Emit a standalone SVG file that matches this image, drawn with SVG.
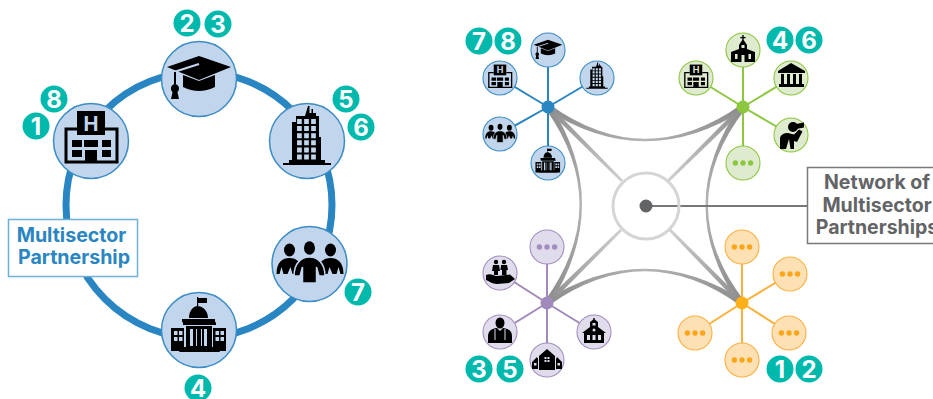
<svg xmlns="http://www.w3.org/2000/svg" width="933" height="399" viewBox="0 0 933 399">
<style>
text{font-family:"Inter","Liberation Sans",sans-serif;font-weight:700}
.bd circle{fill:#00b9ad}
.bd text{fill:#fff;font-size:24px;text-anchor:middle}
.k{fill:#000}.b{fill:currentColor}
.ls{fill:none;stroke:currentColor}
.kl{fill:none;stroke:#000}
.n{stroke-width:1.5}.s{stroke-width:1.1}
.blue{color:#c1d5ec}.blue circle.c{fill:#c1d5ec;stroke:#3c8dc5}
.green{color:#dfebcf}.green circle.c{fill:#dfebcf;stroke:#8dc63f}
.purple{color:#e1dcec}.purple circle.c{fill:#e1dcec;stroke:#a48dbf}
.orange{color:#fde0b4}.orange circle.c{fill:#fde0b4;stroke:#fbb040}
.sb{stroke:#2a86c2}.sg{stroke:#8dc63f}.sp{stroke:#a08abc}.so{stroke:#fbb03b}
.sp2{stroke-width:2}
.lb{font-size:19.600px;fill:#2a86c2;text-anchor:middle}
.lg{font-size:19.500px;fill:#636466;text-anchor:middle}
</style>
<defs>
<linearGradient id="gh" gradientUnits="userSpaceOnUse" x1="548" y1="0" x2="743" y2="0"><stop offset="0" stop-color="#8c8c8c"/><stop offset=".5" stop-color="#b4b4b4"/><stop offset="1" stop-color="#8c8c8c"/></linearGradient>
<linearGradient id="gv" gradientUnits="userSpaceOnUse" x1="0" y1="107" x2="0" y2="303"><stop offset="0" stop-color="#8c8c8c"/><stop offset=".5" stop-color="#b4b4b4"/><stop offset="1" stop-color="#8c8c8c"/></linearGradient>
<linearGradient id="g1" gradientUnits="userSpaceOnUse" x1="548" y1="107" x2="622" y2="181"><stop offset="0" stop-color="#8c8c8c"/><stop offset="1" stop-color="#cfcfcf"/></linearGradient>
<linearGradient id="g2" gradientUnits="userSpaceOnUse" x1="743" y1="107" x2="668" y2="181"><stop offset="0" stop-color="#8c8c8c"/><stop offset="1" stop-color="#cfcfcf"/></linearGradient>
<linearGradient id="g3" gradientUnits="userSpaceOnUse" x1="547" y1="303" x2="621" y2="230"><stop offset="0" stop-color="#8c8c8c"/><stop offset="1" stop-color="#cfcfcf"/></linearGradient>
<linearGradient id="g4" gradientUnits="userSpaceOnUse" x1="742" y1="303" x2="670" y2="230"><stop offset="0" stop-color="#8c8c8c"/><stop offset="1" stop-color="#cfcfcf"/></linearGradient>

<symbol id="hospital" viewBox="-38 -38 76 76">
<path class="kl" stroke-width="3" d="M-14,-12H-25V21H26V-12H14"/>
<rect class="k" x="-14" y="-30" width="28" height="24"/>
<text x="0" y="-10.500" font-size="20" text-anchor="middle" class="b">H</text>
<path class="k" d="M-19,-1h10v7h-10zM-7,-1h14v7h-14zM11,-1h9v7h-9zM-19,9h10v7h-10zM11,9h9v7h-9zM-6,9h12v12h-12z"/>
</symbol>
<symbol id="cap" viewBox="-38 -38 76 76">
<path class="k" d="M-32,-12L0,-23L32,-12L0,1Z"/>
<path class="k" d="M-16,-4L0,2L16,-4V8Q0,16-16,8Z"/>
<path class="ls" stroke-width="2" d="M-25,-7L0,-15"/>
<path class="k" d="M-25,-7h2V5h-2zM-24,5a4,4.500 0 1 1-.1,0ZM-26,11h4l2,9h-8Z"/>
</symbol>
<symbol id="tower" viewBox="-38 -38 76 76">
<path class="k" d="M1,-35h1.500v7H4.500v-4h1.500v4H9v3h3V-4h2V19h4v3h6v2H-24v-2h6v-3h3V-19h4v-6h9Z"/>
<path class="ls" stroke-width="4.700" stroke-dasharray="5 2.100" d="M-7.600,-22V19M-.5,-22V19M6.500,-22V19"/>
</symbol>
<symbol id="people" viewBox="-38 -38 76 76">
<ellipse class="k" cx="-20" cy="-14" rx="5.500" ry="6.500"/><ellipse class="k" cx="21" cy="-14" rx="5.500" ry="6.500"/>
<path class="k" d="M-33,10C-33,-2-27,-6-20,-6C-14,-6-11,-3-9,0L-14,10H-17L-19,3L-22,10H-26L-28,3L-30,10ZM34,10C34,-2 28,-6 21,-6C15,-6 12,-3 10,0L15,10H18L20,3L23,10H27L29,3L31,10Z"/>
<ellipse class="k" cx="0" cy="-16" rx="5.500" ry="6.800"/>
<path class="k" stroke="currentColor" stroke-width="1.500" d="M-15.500,12C-15.500,-1-8,-7 0,-7C8,-7 15.500,-1 15.500,12H9.500L7,3V19H-7V3L-9.500,12Z"/>
</symbol>
<symbol id="gov" viewBox="-38 -38 76 76">
<path class="k" d="M-2,-33h1.200v1H8v5H-.8v5h-1.200v-5ZM-10,-12C-10,-20-5,-24-1.500,-24C3,-24 9,-20 9,-12Z"/>
<path class="k" d="M-17,-11H16V-8.500L17,-7V-5H-16V-7L-17,-8.500Z"/>
<path class="k" d="M-13,-4H13V17H-13ZM-28,-2H-15V21H-28ZM14,-2H27V21H14ZM-17,17H18L21,22H-20Z"/>
<path class="b" d="M-9,-1h3V16H-9zM5,-1h3V16H5zM-3,-1h1V16h-1zM2,-1h1V16H2zM-25,1h3.500v4H-25zM-20,1h3.500v4H-20zM-25,7h3.500v4H-25zM-20,7h3.500v4H-20zM16.500,1h3.500v4H16.500zM21.500,1h3.500v4H21.500zM16.500,7h3.500v4H16.500zM21.500,7h3.500v4H21.500z"/>
</symbol>
<symbol id="dots" viewBox="-38 -38 76 76">
<circle cx="-17" cy="0" r="6" fill="currentColor"/><circle cx="0" cy="0" r="6" fill="currentColor"/><circle cx="17" cy="0" r="6" fill="currentColor"/>
</symbol>
</defs>

<g id="connectors">
<circle cx="199" cy="205" r="133" fill="none" stroke="#2a86c2" stroke-width="7"/>
<g class="sb sp2"><path d="M548,107V50M548,107V163M548,107L597,78M548,107L500,78M548,107L500,134"/></g>
<g class="sg sp2"><path d="M743,107V50M743,107V163M743,107L791,78M743,107L696,78M743,107L791,135"/></g>
<g class="sp sp2"><path d="M547,303V247M547,303V360M547,303L500,273M547,303L500,332M547,303L594,332"/></g>
<g class="so sp2"><path d="M742,303V247M742,303V360M742,303L790,274M742,303L789,333M742,303L695,333"/></g>
<path fill="url(#gh)" d="M549.700,104.500Q645,173 741.300,104.500L744.700,109.500Q645,173 546.300,109.500Z"/>
<path fill="url(#gh)" d="M548.700,305.500Q645,237 740.300,305.500L743.700,300.500Q645,237 545.300,300.500Z"/>
<path fill="url(#gv)" d="M550.500,105.300Q614,205 549.500,304.700L544.500,301.300Q614,205 545.500,108.700Z"/>
<path fill="url(#gv)" d="M740.500,105.300Q671,205 739.500,304.700L744.500,301.300Q671,205 745.500,108.700Z"/>
<path fill="url(#g1)" d="M549.800,105.200L623,180L621,182L546.200,108.800Z"/>
<path fill="url(#g2)" d="M744.800,108.800L669,182L667,180L741.200,105.200Z"/>
<path fill="url(#g3)" d="M548.800,304.800L622,231L620,229L545.200,301.200Z"/>
<path fill="url(#g4)" d="M743.800,301.200L671,229L669,231L740.200,304.800Z"/>
<path d="M646,206H808" stroke="#77787b" stroke-width="2"/>
</g>

<g id="network-center"><circle cx="646" cy="206" r="33" fill="none" stroke="#d5d5d5" stroke-width="3"/><circle cx="646" cy="206" r="6.500" fill="#636466"/></g>

<g id="label-multisector"><rect x="8.500" y="219.500" width="129" height="57" fill="#fff" stroke="#6fb0d8" stroke-width="1.500"/>
<text class="lb" x="71.500" y="242">Multisector</text><text class="lb" x="74" y="264">Partnership</text></g>

<g id="label-network"><rect x="807.500" y="167.500" width="140" height="76" fill="#fff" stroke="#77787b" stroke-width="1.500"/>
<text class="lg" x="877" y="189">Network of</text><text class="lg" x="877" y="212">Multisector</text><text class="lg" x="877" y="234">Partnerships</text></g>

<g id="big-hospital" class="blue"><circle class="c n" cx="91" cy="141" r="37.500"/><use href="#hospital" x="53" y="103" width="76" height="76"/></g>
<g id="big-cap" class="blue"><circle class="c n" cx="199" cy="79" r="37.500"/><use href="#cap" x="161" y="41" width="76" height="76"/></g>
<g id="big-tower" class="blue"><circle class="c n" cx="307" cy="141" r="37.500"/><use href="#tower" x="269" y="103" width="76" height="76"/></g>
<g id="big-people" class="blue"><circle class="c n" cx="309.500" cy="264" r="37.500"/><use href="#people" x="271.500" y="226" width="76" height="76"/></g>
<g id="big-gov" class="blue"><circle class="c n" cx="199" cy="330" r="37.500"/><use href="#gov" x="161" y="292" width="76" height="76"/></g>

<g id="blue-hub"><circle cx="548" cy="107" r="6.500" fill="#2a86c2"/></g>
<g id="blue-cap" class="blue"><circle class="c s" cx="548" cy="50" r="17"/><use href="#cap" x="531" y="33" width="34" height="34"/></g>
<g id="blue-tower" class="blue"><circle class="c s" cx="597" cy="78" r="17"/><use href="#tower" x="580" y="61" width="34" height="34"/></g>
<g id="blue-hospital" class="blue"><circle class="c s" cx="500" cy="78" r="17"/><use href="#hospital" x="483" y="61" width="34" height="34"/></g>
<g id="blue-people" class="blue"><circle class="c s" cx="500" cy="134" r="17"/><use href="#people" x="483" y="117" width="34" height="34"/></g>
<g id="blue-gov" class="blue"><circle class="c s" cx="548" cy="163" r="17"/><use href="#gov" x="531" y="146" width="34" height="34"/></g>

<g id="green-hub"><circle cx="743" cy="107" r="6.500" fill="#8dc63f"/></g>
<g id="green-church" class="green"><circle class="c s" cx="743" cy="50" r="17"/><path class="k" transform="translate(743,50)" d="M-.7,-15h1.400v2h2v1.200h-2V-10L4,-5V-1L12,2V12H-12V2L-4,-1V-5L-.7,-10V-11.800h-2V-13h2Z"/><path class="b" transform="translate(743,50)" d="M-1.500,-5h3v3h-3zM-8,4h2.500v5H-8zM5.500,4H8v5H5.500zM-1.500,5h3v7h-3z"/></g>
<g id="green-bank" class="green"><circle class="c s" cx="791" cy="78" r="17"/><path class="k" transform="translate(791,78)" d="M-13,-7L0,-15L14,-7V-5H-13ZM-10,-4h3V6h-3zM-4,-4h3V6h-3zM2,-4h3V6H2zM8,-4h3V6H8zM-12,6H13v3H-12Z"/></g>
<g id="green-hospital" class="green"><circle class="c s" cx="696" cy="78" r="17"/><use href="#hospital" x="679" y="61" width="34" height="34"/></g>
<g id="green-person" class="green"><circle class="c s" cx="791" cy="135" r="17"/><g transform="translate(791,135)"><circle class="k" cx="2" cy="-8" r="5"/><path class="k" d="M5,-11l8,-1.500v5l-8,1.500ZM-11,14V4C-11,-1-6,-2-3,-2L3,-.5L8,-5.500L11.500,-3.500L6,7L3,6V14H-.5L-2,4L-5,14Z"/></g></g>
<g id="green-more" class="green"><circle class="c s" cx="743" cy="163" r="17"/><use href="#dots" x="726" y="146" width="34" height="34" color="#8dc63f"/></g>

<g id="purple-hub"><circle cx="547" cy="303" r="6.500" fill="#a08abc"/></g>
<g id="purple-more" class="purple"><circle class="c s" cx="547" cy="247" r="17"/><use href="#dots" x="530" y="230" width="34" height="34" color="#a48dbf"/></g>
<g id="purple-family" class="purple"><circle class="c s" cx="500" cy="273" r="17"/><g transform="translate(500,273)"><circle class="k" cx="-4" cy="-11" r="2.200"/><circle class="k" cx="4" cy="-11" r="2.200"/><path class="k" d="M-7,-8H-1L0,-2H-2V2H-6V-2H-8ZM1,-8H7L8,-3H6.500V2H2V-3H.5Z"/><path class="k" d="M-14,2C-9,0-7,3-3,3L6,2L10,1.500L15,6L9,10L-3,11C-8,11-11,8-14,7Z"/></g></g>
<g id="purple-doctor" class="purple"><circle class="c s" cx="500" cy="332" r="17"/><g transform="translate(500,332)"><ellipse class="k" cx="0" cy="-9" rx="4.500" ry="5.500"/><path class="k" d="M-12,11V4C-12,-2-6,-4-3,-4L0,-1L3,-4C6,-4 12,-2 12,4V11Z"/><path class="ls" stroke-width="1" d="M-5,-3V8M5,-3V8"/></g></g>
<g id="purple-school" class="purple"><circle class="c s" cx="594" cy="332" r="17"/><g transform="translate(594,332)"><path class="k" d="M-.7,-14h1.400v1.500L4,-10V-5L12,1H10V11H-10V1H-12L-4,-5V-10L-.7,-12.500Z"/><circle class="b" cx="0" cy="-2" r="1.500"/><path class="b" d="M-1.500,-9h3v2.500h-3zM-7,3h3v5h-3zM4,3h3v5H4zM-1.500,3h3v5h-3z"/></g></g>
<g id="purple-houses" class="purple"><circle class="c s" cx="547" cy="360" r="17"/><g transform="translate(547,360)"><path class="k" d="M0,-11L8,-4V10H-8V-4ZM-10,-3L-15,2V9H-9V-1ZM10,-3L15,2V9H9V-1Z"/><path class="b" d="M-2.500,-3h2v2h-2zM.5,-3h2v2h-2zM-2.500,0h2v2h-2zM.5,0h2v2h-2zM-13,3h2.500v2.500H-13zM10.500,3H13v2.500h-2.500z"/></g></g>

<g id="orange-hub"><circle cx="742" cy="303" r="6.500" fill="#fdb018"/></g>
<g id="orange-top" class="orange"><circle class="c s" cx="742" cy="247" r="17"/><use href="#dots" x="725" y="230" width="34" height="34" color="#faa61a"/></g>
<g id="orange-ur" class="orange"><circle class="c s" cx="790" cy="274" r="17"/><use href="#dots" x="773" y="257" width="34" height="34" color="#faa61a"/></g>
<g id="orange-lr" class="orange"><circle class="c s" cx="789" cy="333" r="17"/><use href="#dots" x="772" y="316" width="34" height="34" color="#faa61a"/></g>
<g id="orange-ll" class="orange"><circle class="c s" cx="695" cy="333" r="17"/><use href="#dots" x="678" y="316" width="34" height="34" color="#faa61a"/></g>
<g id="orange-bottom" class="orange"><circle class="c s" cx="742" cy="360" r="17"/><use href="#dots" x="725" y="343" width="34" height="34" color="#faa61a"/></g>

<g id="badges" class="bd">
<circle cx="187" cy="23" r="13.500"/><text x="187" y="32">2</text>
<circle cx="218" cy="24" r="13.500"/><text x="218" y="33">3</text>
<circle cx="54" cy="99" r="13.500"/><text x="54" y="108">8</text>
<circle cx="36" cy="126" r="13.500"/><text x="36" y="135">1</text>
<circle cx="346" cy="99" r="13.500"/><text x="346" y="108">5</text>
<circle cx="361" cy="127" r="13.500"/><text x="361" y="136">6</text>
<circle cx="358" cy="292" r="13.500"/><text x="358" y="301">7</text>
<circle cx="198" cy="388" r="13.500"/><text x="198" y="397">4</text>
<circle cx="479" cy="41" r="13.500"/><text x="479" y="50">7</text>
<circle cx="508" cy="41" r="13.500"/><text x="508" y="50">8</text>
<circle cx="780" cy="40" r="13.500"/><text x="780" y="49">4</text>
<circle cx="809" cy="40" r="13.500"/><text x="809" y="49">6</text>
<circle cx="479" cy="369" r="13.500"/><text x="479" y="378">3</text>
<circle cx="510" cy="369" r="13.500"/><text x="510" y="378">5</text>
<circle cx="780" cy="369" r="13.500"/><text x="780" y="378">1</text>
<circle cx="809" cy="369" r="13.500"/><text x="809" y="378">2</text>
</g>
</svg>
